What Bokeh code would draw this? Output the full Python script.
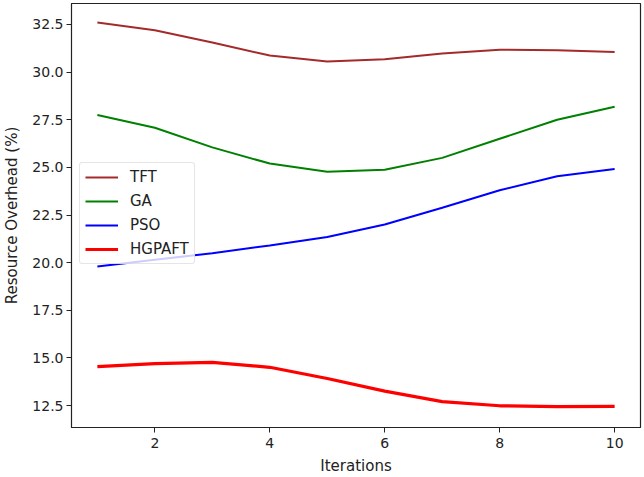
from bokeh.plotting import figure
from bokeh.models import FixedTicker, PrintfTickFormatter, Legend, LegendItem, Range1d
from bokeh.embed import file_html
from bokeh.resources import INLINE

iterations = [1, 2, 3, 4, 5, 6, 7, 8, 9, 10]
tft = [32.6, 32.2, 31.55, 30.87, 30.56, 30.68, 30.98, 31.17, 31.15, 31.06]
ga = [27.75, 27.08, 26.05, 25.2, 24.77, 24.88, 25.5, 26.5, 27.5, 28.18]
pso = [19.8, 20.15, 20.5, 20.9, 21.35, 22.0, 22.88, 23.8, 24.53, 24.92]
hgpaft = [14.54, 14.7, 14.77, 14.51, 13.92, 13.26, 12.71, 12.49, 12.45, 12.46]
x_ticks = [2, 4, 6, 8, 10]
y_ticks = [12.5, 15.0, 17.5, 20.0, 22.5, 25.0, 27.5, 30.0, 32.5]

FONT = "DejaVu Sans"
p = figure(width=644, height=477, output_backend="svg", toolbar_location=None,
           x_range=Range1d(0.55, 10.45), y_range=Range1d(11.35, 33.6),
           min_border_left=71, min_border_right=4, min_border_top=3, min_border_bottom=49)
p.xgrid.visible = False
p.ygrid.visible = False
p.outline_line_color = "#222222"
p.outline_line_width = 1.2

for ax in (p.xaxis[0], p.yaxis[0]):
    ax.axis_line_color = "#222222"
    ax.major_tick_line_color = "#222222"
    ax.major_tick_out = 5
    ax.major_tick_in = 0
    ax.minor_tick_line_color = None
    ax.major_label_text_font = FONT
    ax.major_label_text_font_size = "14px"
    ax.major_label_text_color = "#222222"
    ax.axis_label_text_font = FONT
    ax.axis_label_text_font_size = "15px"
    ax.axis_label_text_font_style = "normal"
    ax.axis_label_text_color = "#222222"

p.xaxis.ticker = FixedTicker(ticks=x_ticks)
p.yaxis.ticker = FixedTicker(ticks=y_ticks)
p.yaxis.formatter = PrintfTickFormatter(format="%.1f")
p.xaxis.axis_label = "Iterations"
p.yaxis.axis_label = "Resource Overhead (%)"
p.xaxis.major_label_standoff = 5
p.yaxis.major_label_standoff = 3
p.xaxis.axis_label_standoff = 6
p.yaxis.axis_label_standoff = 8

r1 = p.line(iterations, tft, line_color="#a52a2a", line_width=2)
r2 = p.line(iterations, ga, line_color="#008000", line_width=2)
r3 = p.line(iterations, pso, line_color="#0000ff", line_width=2)
r4 = p.line(iterations, hgpaft, line_color="#ff0000", line_width=3.2)

legend = Legend(items=[LegendItem(label="TFT", renderers=[r1]),
                       LegendItem(label="GA", renderers=[r2]),
                       LegendItem(label="PSO", renderers=[r3]),
                       LegendItem(label="HGPAFT", renderers=[r4])],
                location=(8, 163))
legend.label_text_font = FONT
legend.label_text_font_size = "15px"
legend.label_text_color = "#222222"
legend.border_line_color = "#cccccc"
legend.border_line_width = 1
legend.border_radius = 3
legend.background_fill_alpha = 0.8
legend.glyph_width = 33
legend.glyph_height = 18
legend.label_height = 18
legend.spacing = 6
legend.padding = 5
legend.margin = 0
legend.label_standoff = 12
p.add_layout(legend, "center")

open("out.html", "w").write(file_html(p, INLINE))
